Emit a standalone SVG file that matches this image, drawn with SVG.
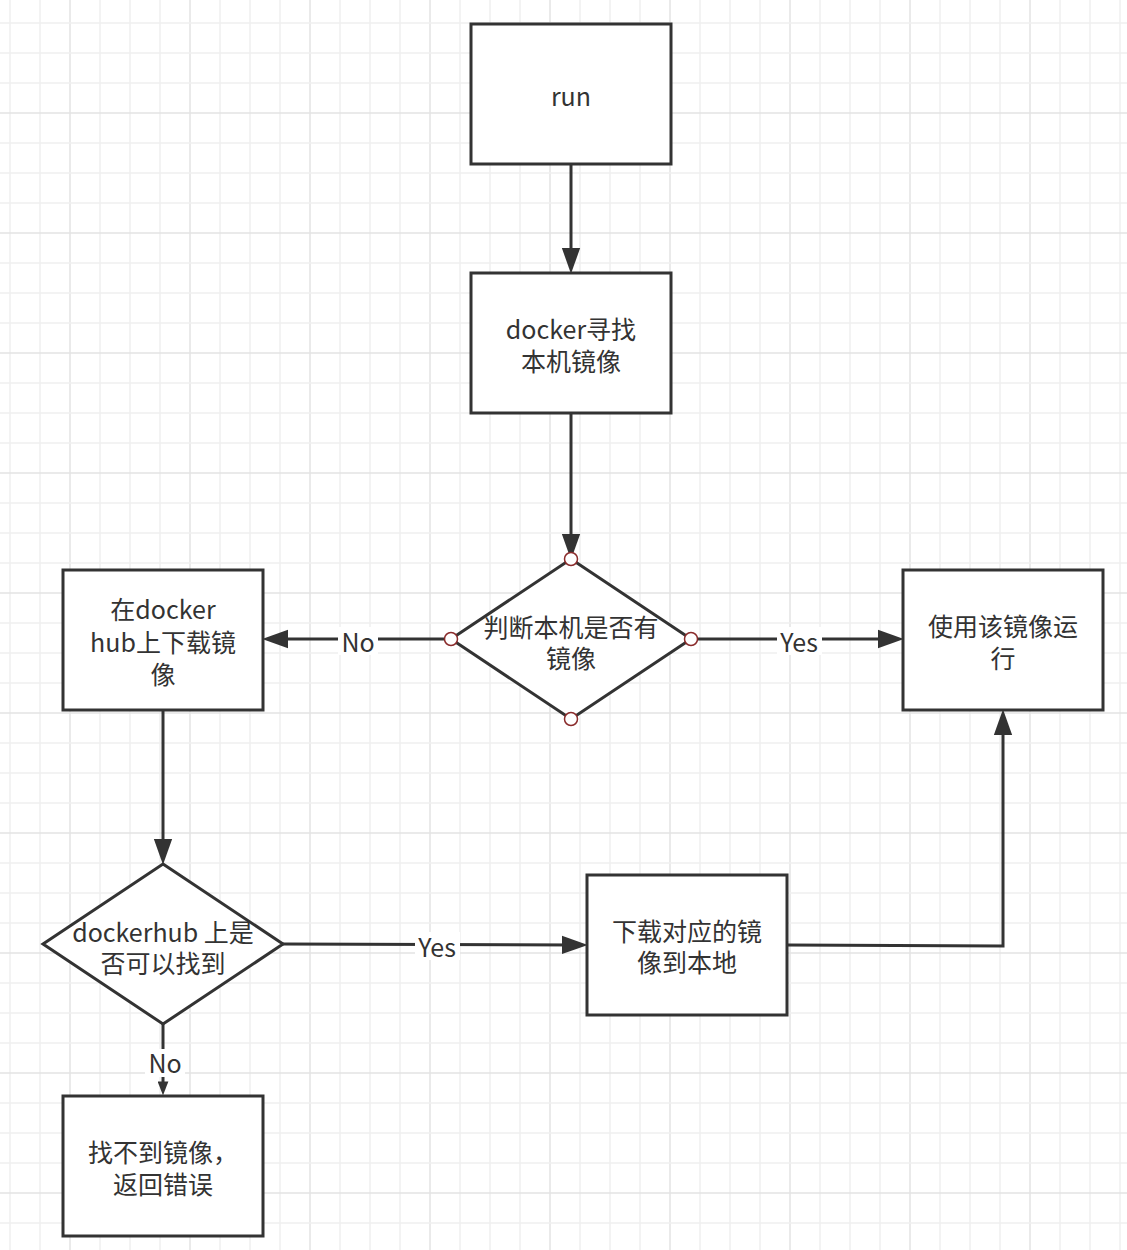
<svg xmlns="http://www.w3.org/2000/svg" width="1127" height="1250" viewBox="0 0 1127 1250">
  <style>
    .grid { stroke: #efefef; stroke-width: 1.5; fill: none; }
    .gridm { stroke: #e4e4e4; stroke-width: 1.5; fill: none; }
    .box { fill: #ffffff; stroke: #333333; stroke-width: 3; }
    .conn { fill: none; stroke: #333333; stroke-width: 3; }
    .t { font-family: "Noto Sans CJK SC", "Noto Sans", sans-serif; font-size: 25px; fill: #333333; text-anchor: middle; dominant-baseline: central; }
    .lblbg { fill: #ffffff; }
    .pt { fill: #ffffff; stroke: #8a2b2b; stroke-width: 1.5; }
  </style>
  <defs>
    <marker id="arr" markerUnits="userSpaceOnUse" markerWidth="26" markerHeight="20" viewBox="0 0 24 17" refX="14" refY="8.5" orient="auto">
      <path d="M0,0 L24,8.5 L0,17 z" fill="#333333"/>
    </marker>
    <marker id="arrs" markerUnits="userSpaceOnUse" markerWidth="14" markerHeight="11" viewBox="0 0 13 10" refX="7" refY="5" orient="auto">
      <path d="M0,0 L13,5 L0,10 z" fill="#333333"/>
    </marker>
  </defs>
  <rect width="1127" height="1250" fill="#ffffff"/>
  <g id="grid">
    <path class="grid" d="M10 0V1250M40 0V1250M100 0V1250M130 0V1250M160 0V1250M220 0V1250M250 0V1250M280 0V1250M340 0V1250M370 0V1250M400 0V1250M460 0V1250M490 0V1250M520 0V1250M580 0V1250M610 0V1250M640 0V1250M700 0V1250M730 0V1250M760 0V1250M820 0V1250M850 0V1250M880 0V1250M940 0V1250M970 0V1250M1000 0V1250M1060 0V1250M1090 0V1250M1120 0V1250"/>
    <path class="gridm" d="M70 0V1250M190 0V1250M310 0V1250M430 0V1250M550 0V1250M670 0V1250M790 0V1250M910 0V1250M1030 0V1250"/>
    <path class="grid" d="M0 23H1127M0 53H1127M0 83H1127M0 143H1127M0 173H1127M0 203H1127M0 263H1127M0 293H1127M0 323H1127M0 383H1127M0 413H1127M0 443H1127M0 503H1127M0 533H1127M0 563H1127M0 623H1127M0 653H1127M0 683H1127M0 743H1127M0 773H1127M0 803H1127M0 863H1127M0 893H1127M0 923H1127M0 983H1127M0 1013H1127M0 1043H1127M0 1103H1127M0 1133H1127M0 1163H1127M0 1223H1127"/>
    <path class="gridm" d="M0 113H1127M0 233H1127M0 353H1127M0 473H1127M0 593H1127M0 713H1127M0 833H1127M0 953H1127M0 1073H1127M0 1193H1127"/>
  </g>
  <g id="connectors">
    <path class="conn" d="M571 164V263" marker-end="url(#arr)"/>
    <path class="conn" d="M571 413V549" marker-end="url(#arr)"/>
    <path class="conn" d="M451 639H273" marker-end="url(#arr)"/>
    <path class="conn" d="M691 639H893" marker-end="url(#arr)"/>
    <path class="conn" d="M163 710V854" marker-end="url(#arr)"/>
    <path class="conn" d="M283 944L577 945" marker-end="url(#arr)"/>
    <path class="conn" d="M787 945L1003 946V720" marker-end="url(#arr)"/>
    <path class="conn" d="M163 1024V1089" marker-end="url(#arrs)"/>
    <rect class="lblbg" x="338" y="627" width="40" height="28"/>
    <text class="t" x="358" y="641">No</text>
    <rect class="lblbg" x="777" y="627" width="45" height="28"/>
    <text class="t" x="799" y="641">Yes</text>
    <rect class="lblbg" x="415" y="932" width="45" height="28"/>
    <text class="t" x="437" y="946">Yes</text>
    <rect class="lblbg" x="145" y="1049" width="40" height="28"/>
    <text class="t" x="165" y="1062">No</text>
  </g>
  <g id="node-run">
    <rect class="box" x="471" y="24" width="200" height="140"/>
    <text class="t" x="571" y="95">run</text>
  </g>
  <g id="node-search">
    <rect class="box" x="471" y="273" width="200" height="140"/>
    <text class="t" x="571" y="328">docker寻找</text>
    <text class="t" x="571" y="360">本机镜像</text>
  </g>
  <g id="node-decide-local">
    <path class="box" d="M571 559L691 639L571 719L451 639Z"/>
    <text class="t" x="571" y="626">判断本机是否有</text>
    <text class="t" x="571" y="657">镜像</text>
    <circle class="pt" cx="571" cy="559" r="6.5"/>
    <circle class="pt" cx="691" cy="639" r="6.5"/>
    <circle class="pt" cx="571" cy="719" r="6.5"/>
    <circle class="pt" cx="451" cy="639" r="6.5"/>
  </g>
  <g id="node-download-hub">
    <rect class="box" x="63" y="570" width="200" height="140"/>
    <text class="t" x="163" y="608">在docker</text>
    <text class="t" x="163" y="641">hub上下载镜</text>
    <text class="t" x="163" y="673">像</text>
  </g>
  <g id="node-use">
    <rect class="box" x="903" y="570" width="200" height="140"/>
    <text class="t" x="1003" y="625">使用该镜像运</text>
    <text class="t" x="1003" y="657">行</text>
  </g>
  <g id="node-decide-hub">
    <path class="box" d="M163 864L283 944L163 1024L43 944Z"/>
    <text class="t" x="163" y="931">dockerhub 上是</text>
    <text class="t" x="163" y="962">否可以找到</text>
  </g>
  <g id="node-download-local">
    <rect class="box" x="587" y="875" width="200" height="140"/>
    <text class="t" x="687" y="930">下载对应的镜</text>
    <text class="t" x="687" y="961">像到本地</text>
  </g>
  <g id="node-error">
    <rect class="box" x="63" y="1096" width="200" height="140"/>
    <text class="t" x="163" y="1151">找不到镜像，</text>
    <text class="t" x="163" y="1183">返回错误</text>
  </g>
</svg>
